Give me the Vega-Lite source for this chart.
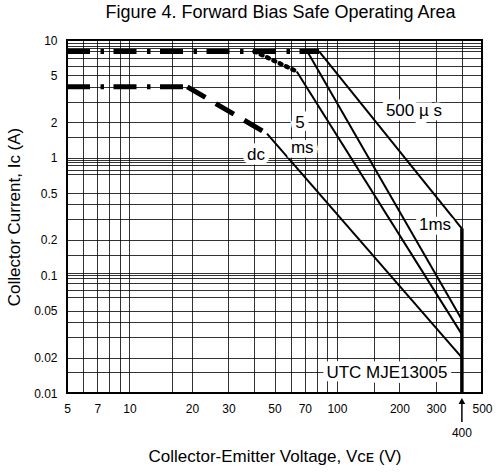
{
  "$schema": "https://vega.github.io/schema/vega-lite/v6.json",
  "width": 415,
  "height": 353,
  "autosize": {"type": "none"},
  "padding": {"left": 67, "top": 40, "right": 17, "bottom": 79},
  "background": "white",
  "title": {"text": "Figure 4. Forward Bias Safe Operating Area", "fontSize": 18, "font": "Liberation Sans", "fontWeight": "normal", "color": "black", "offset": 12, "anchor": "middle", "dx": 6},
  "config": {"view": {"stroke": "black", "strokeWidth": 2}, "font": "Liberation Sans"},
  "datasets": {
    "pulse": [{"V": 5, "I": 8}, {"V": 82, "I": 8}],
    "dcflat": [{"V": 5, "I": 4}, {"V": 19, "I": 4}],
    "dcthermal": [{"V": 19, "I": 4}, {"V": 46, "I": 1.6}],
    "ms5thermal": [{"V": 40, "I": 8}, {"V": 64, "I": 5.4}],
    "solid": [
      {"curve": "dc", "V": 46, "I": 1.6}, {"curve": "dc", "V": 400, "I": 0.02},
      {"curve": "5ms", "V": 64, "I": 5.4}, {"curve": "5ms", "V": 400, "I": 0.0315},
      {"curve": "1ms", "V": 72, "I": 8}, {"curve": "1ms", "V": 400, "I": 0.042},
      {"curve": "500us", "V": 82, "I": 8}, {"curve": "500us", "V": 400, "I": 0.25}
    ],
    "limit": [{"V": 400, "I": 0.25}, {"V": 400, "I": 0.01}],
    "arrow": [{"V": 400, "I": 0.00567, "I2": 0.00806}],
    "arrowhead": [{"V": 400, "I": 0.00855}],
    "labels": [
      {"V": 235, "I": 2.49, "text": "500 µ s"},
      {"V": 66.4, "I": 1.97, "text": "5"},
      {"V": 68, "I": 1.21, "text": "ms"},
      {"V": 40.7, "I": 1.05, "text": "dc"},
      {"V": 297, "I": 0.268, "text": "1ms"},
      {"V": 174, "I": 0.0148, "text": "UTC MJE13005"}
    ],
    "tick400": [{"V": 400, "I": 0.00457, "text": "400"}]
  },
  "layer": [
    {
      "data": {"name": "pulse"},
      "mark": {"type": "line", "color": "black", "strokeWidth": 5, "strokeDash": [23, 10.5, 3.5, 9.5], "strokeCap": "butt"},
      "encoding": {
        "x": {
          "field": "V", "type": "quantitative",
          "scale": {"type": "log", "domain": [5, 500], "nice": false},
          "axis": {
            "title": "Collector-Emitter Voltage, Vᴄᴇ (V)",
            "values": [5, 6, 7, 8, 9, 10, 16, 20, 30, 40, 50, 60, 70, 80, 90, 100, 150, 200, 300, 400, 500],
            "format": "~g",
            "labelExpr": "indexof([5,7,10,20,30,50,70,100,200,300,500], datum.value) >= 0 ? datum.label : ''",
            "grid": true, "gridColor": "black", "gridOpacity": 0.8, "gridWidth": 1,
            "ticks": false, "tickSize": 0, "domain": false,
            "labelFontSize": 12, "labelColor": "black", "labelPadding": 10,
            "labelOverlap": false, "labelFlush": false, "labelBound": false,
            "titleFontSize": 17, "titleFontWeight": "normal", "titleColor": "black", "titlePadding": 34
          }
        },
        "y": {
          "field": "I", "type": "quantitative",
          "scale": {"type": "log", "domain": [0.01, 10], "nice": false},
          "axis": {
            "title": "Collector Current, Ic (A)",
            "values": [10, 9.4, 8.9, 8.5, 8, 7, 6, 5, 4, 3, 2, 1.5, 1, 0.96, 0.92, 0.87, 0.79, 0.72, 0.5, 0.4, 0.3, 0.2, 0.15, 0.105, 0.1, 0.095, 0.086, 0.075, 0.065, 0.05, 0.04, 0.03, 0.02, 0.015, 0.01],
            "format": "~g",
            "labelExpr": "indexof([10,5,2,1,0.5,0.2,0.1,0.05,0.02,0.01], datum.value) >= 0 ? datum.label : ''",
            "grid": true, "gridColor": "black", "gridOpacity": 0.8, "gridWidth": 1,
            "ticks": false, "tickSize": 0, "domain": false,
            "labelFontSize": 12, "labelColor": "black", "labelPadding": 10,
            "labelOverlap": false, "labelFlush": false, "labelBound": false,
            "titleFontSize": 17, "titleFontWeight": "normal", "titleColor": "black", "titlePadding": 10
          }
        }
      }
    },
    {
      "data": {"name": "dcflat"},
      "mark": {"type": "line", "color": "black", "strokeWidth": 5, "strokeDash": [23, 10.5, 3.5, 9.5], "strokeCap": "butt"},
      "encoding": {"x": {"field": "V", "type": "quantitative"}, "y": {"field": "I", "type": "quantitative"}}
    },
    {
      "data": {"name": "dcthermal"},
      "mark": {"type": "line", "color": "black", "strokeWidth": 5, "strokeDash": [21, 12], "strokeCap": "butt"},
      "encoding": {"x": {"field": "V", "type": "quantitative"}, "y": {"field": "I", "type": "quantitative"}}
    },
    {
      "data": {"name": "ms5thermal"},
      "mark": {"type": "line", "color": "black", "strokeWidth": 4.5, "strokeDash": [2, 5], "strokeCap": "round"},
      "encoding": {"x": {"field": "V", "type": "quantitative"}, "y": {"field": "I", "type": "quantitative"}}
    },
    {
      "data": {"name": "solid"},
      "mark": {"type": "line", "color": "black", "strokeWidth": 2},
      "encoding": {"x": {"field": "V", "type": "quantitative"}, "y": {"field": "I", "type": "quantitative"}, "detail": {"field": "curve"}}
    },
    {
      "data": {"name": "limit"},
      "mark": {"type": "line", "color": "black", "strokeWidth": 3.5},
      "encoding": {"x": {"field": "V", "type": "quantitative"}, "y": {"field": "I", "type": "quantitative"}}
    },
    {
      "data": {"name": "arrow"},
      "mark": {"type": "rule", "color": "black", "strokeWidth": 1.5},
      "encoding": {"x": {"field": "V", "type": "quantitative"}, "y": {"field": "I", "type": "quantitative"}, "y2": {"field": "I2"}}
    },
    {
      "data": {"name": "arrowhead"},
      "mark": {"type": "point", "shape": "triangle-up", "filled": true, "color": "black", "size": 45, "opacity": 1},
      "encoding": {"x": {"field": "V", "type": "quantitative"}, "y": {"field": "I", "type": "quantitative"}}
    },
    {
      "data": {"name": "tick400"},
      "mark": {"type": "text", "fontSize": 12, "color": "black", "baseline": "middle", "align": "center"},
      "encoding": {"x": {"field": "V", "type": "quantitative"}, "y": {"field": "I", "type": "quantitative"}, "text": {"field": "text"}}
    },
    {
      "data": {"name": "labels"},
      "mark": {"type": "text", "fontSize": 17, "fill": "white", "stroke": "white", "strokeWidth": 9, "strokeJoin": "miter", "baseline": "middle", "align": "center"},
      "encoding": {"x": {"field": "V", "type": "quantitative"}, "y": {"field": "I", "type": "quantitative"}, "text": {"field": "text"}}
    },
    {
      "data": {"name": "labels"},
      "mark": {"type": "text", "fontSize": 17, "color": "black", "baseline": "middle", "align": "center"},
      "encoding": {"x": {"field": "V", "type": "quantitative"}, "y": {"field": "I", "type": "quantitative"}, "text": {"field": "text"}}
    }
  ]
}
